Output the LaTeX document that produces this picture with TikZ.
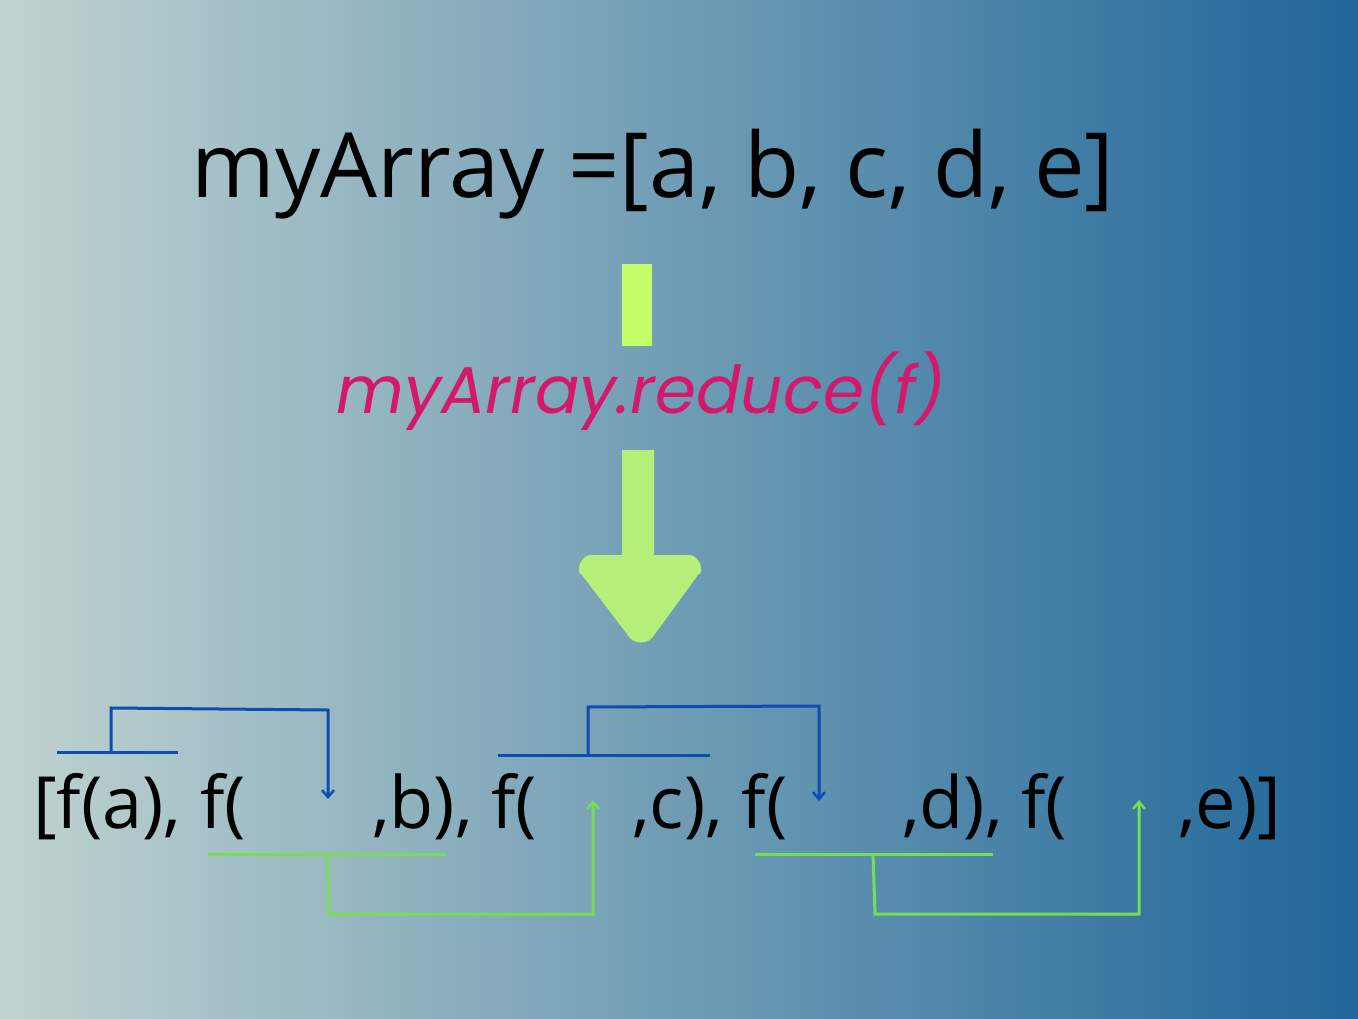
\documentclass[tikz,border=0pt]{standalone}
\usepackage{fontspec}
\setmainfont{Open Sans}
\newfontfamily\popit{Poppins}[ItalicFont={Poppins Italic}]
\usetikzlibrary{arrows.meta}
\definecolor{bgL}{HTML}{C0D3D0}
\definecolor{bgR}{HTML}{1F6699}
\definecolor{barg}{HTML}{C4FF6A}
\definecolor{arrg}{HTML}{B4EF7A}
\definecolor{mag}{HTML}{D4186C}
\definecolor{blu}{HTML}{0B4DB0}
\definecolor{grn}{HTML}{77DD55}
\tikzset{
  bl/.style={draw=blu,line width=3pt},
  gl/.style={draw=grn,line width=3pt},
  tip/.style={-{Straight Barb[length=7pt,width=12pt,line width=2.5pt]}},
  code/.style={font=\fontsize{72}{80}\selectfont,inner sep=0,anchor=base west,text=black},
}
\begin{document}
\begin{tikzpicture}[x=1pt,y=-1pt]
\useasboundingbox (0,0) rectangle (1358,1019);
\shade[left color=bgL,right color=bgR] (0,0) rectangle (1358,1019);
\node[inner sep=0,anchor=base,font=\fontsize{90}{100}\selectfont] (title) at (653,198) {myArray =[a, b, c, d, e]};
\fill[barg] (622,264) rectangle (652,346);
\node[inner sep=0,anchor=base,text=mag,font=\popit\itshape\fontsize{66}{70}\selectfont] (red) at (641,413) {myArray.reduce(f)};
\fill[arrg] (622,450) -- (654,450) -- (654,555) -- (690,555) to[out=0,in=20] (698,575) -- (652,638) to[out=-135,in=-45] (630,638) -- (582,575) to[out=160,in=180] (590,555) -- (622,555) -- cycle;
\node[code] (t1) at (33,828) {[f(a), f(};
\node[code] (t2) at (372,828) {,b), f(};
\node[code] (t3) at (632,828) {,c), f(};
\node[code] (t4) at (902,828) {,d), f(};
\node[code] (t5) at (1178,828) {,e)]};
% blue
\coordinate (b1a) at (57,752); \coordinate (b1b) at (178,752);
\draw[bl] (b1a) -- (b1b);
\draw[bl,tip] (111,752) -- (111,708) -- (328,710) -- (328,799);
\draw[bl] (498,755) -- (710,755);
\draw[bl,tip] (588,755) -- (588,707) -- (819,706) -- (819,801);
% green
\draw[gl] (208,854) -- (446,854);
\draw[gl,tip] (328,854) -- (329,914) -- (593,914) -- (593,800);
\draw[gl] (755,854) -- (993,854);
\draw[gl,tip] (873,854) -- (875,914) -- (1139,914) -- (1139,800);
\end{tikzpicture}
\end{document}
